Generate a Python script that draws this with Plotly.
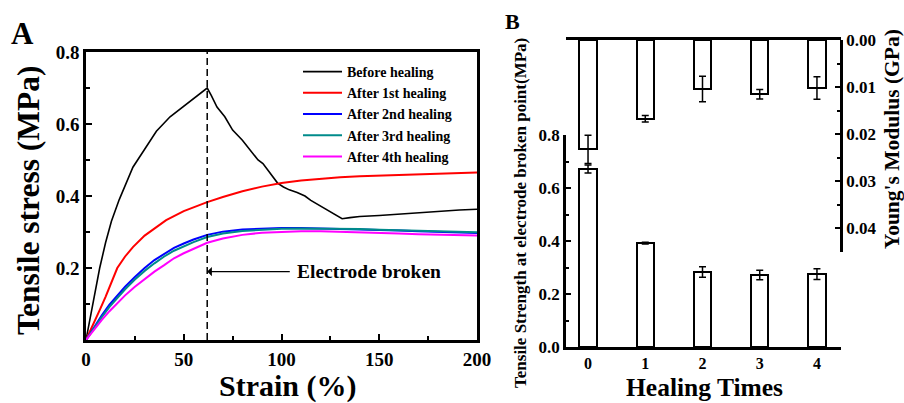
import plotly.graph_objects as go

W, H = 904, 403
FONT = "Liberation Serif"

# ---------------- Panel A data ----------------
before_x = [0, 2, 4, 7, 10, 13, 17, 20, 24, 30, 36, 43, 50, 56, 62, 64, 67, 71, 75, 80, 85, 88, 90.5, 94, 98,
            101, 104, 108, 112, 115, 120, 126, 131, 135, 140, 150, 160, 170, 180, 191, 200]
before_y = [0, 0.06, 0.12, 0.20, 0.27, 0.33, 0.39, 0.43, 0.48, 0.53, 0.58, 0.62, 0.65, 0.675, 0.70, 0.68, 0.647,
            0.62, 0.583, 0.555, 0.52, 0.50, 0.49, 0.465, 0.436, 0.425, 0.417, 0.41, 0.40, 0.388, 0.372, 0.353,
            0.337, 0.34, 0.343, 0.346, 0.35, 0.353, 0.357, 0.361, 0.363]

h1_x = [0, 4, 7, 10, 12, 16, 20, 24, 30, 35, 41, 50, 62, 70, 80, 90, 100, 110, 120, 130, 140, 150, 160, 170,
        180, 191, 200]
h1_y = [0, 0.045, 0.083, 0.12, 0.145, 0.20, 0.232, 0.258, 0.29, 0.31, 0.333, 0.358, 0.383, 0.397, 0.413, 0.426,
        0.436, 0.443, 0.448, 0.452, 0.455, 0.457, 0.459, 0.461, 0.462, 0.464, 0.465]

hx = [0, 4, 8, 12, 16, 20, 25, 30, 35, 40, 45, 50, 55, 62, 70, 80, 90, 100, 110, 120, 130, 140, 150, 160, 170,
      180, 190, 200]
h2_y = [0, 0.035, 0.068, 0.098, 0.124, 0.148, 0.175, 0.20, 0.222, 0.24, 0.256, 0.268, 0.279, 0.292, 0.301, 0.307,
        0.31, 0.311, 0.311, 0.31, 0.309, 0.308, 0.306, 0.304, 0.302, 0.30, 0.298, 0.297]
h3_y = [0, 0.032, 0.063, 0.092, 0.118, 0.141, 0.168, 0.192, 0.213, 0.232, 0.248, 0.261, 0.272, 0.286, 0.296,
        0.303, 0.307, 0.309, 0.31, 0.31, 0.309, 0.308, 0.306, 0.305, 0.303, 0.301, 0.30, 0.299]
h4_y = [0, 0.028, 0.055, 0.08, 0.103, 0.124, 0.148, 0.17, 0.19, 0.208, 0.227, 0.241, 0.254, 0.27, 0.282, 0.292,
        0.298, 0.301, 0.302, 0.302, 0.301, 0.30, 0.298, 0.296, 0.294, 0.292, 0.291, 0.29]

series_names = ["Before healing", "After 1st healing", "After 2nd healing", "After 3rd healing", "After 4th healing"]
series_colors = ["#000000", "#ff0000", "#0000ff", "#008b8b", "#ff00ff"]
broken_strain = 62
broken_label = "Electrode broken"

# ---------------- Panel B data ----------------
healing_times = [0, 1, 2, 3, 4]
strength = [0.672, 0.392, 0.283, 0.272, 0.275]
strength_err = [0.015, 0.003, 0.02, 0.018, 0.02]
modulus = [0.0232, 0.0167, 0.0104, 0.0115, 0.0102]
modulus_err = [0.003, 0.0007, 0.0027, 0.001, 0.0024]


def px(x):
    return x / W


def py(y):
    return 1 - y / H


fig = go.Figure()

xs = [before_x, h1_x, hx, hx, hx]
ys = [before_y, h1_y, h2_y, h3_y, h4_y]
widths = [1.6, 2, 2, 2, 2]
for name, c, x, y, w in zip(series_names, series_colors, xs, ys, widths):
    fig.add_trace(go.Scatter(x=x, y=y, mode="lines", name=name, line=dict(color=c, width=w),
                             xaxis="x", yaxis="y"))

bar_line = dict(color="black", width=2)
fig.add_trace(go.Bar(x=healing_times, y=strength, width=0.3, xaxis="x2", yaxis="y2", showlegend=False,
                     marker=dict(color="white", line=bar_line),
                     error_y=dict(type="data", array=strength_err, color="black", thickness=1.5, width=3.5)))
fig.add_trace(go.Bar(x=healing_times, y=modulus, width=0.3, xaxis="x3", yaxis="y3", showlegend=False,
                     marker=dict(color="white", line=bar_line),
                     error_y=dict(type="data", array=modulus_err, color="black", thickness=1.5, width=3.5)))

tickA = dict(family=FONT, size=19, color="black", weight="bold")
tickB = dict(family=FONT, size=17, color="black", weight="bold")
axA = dict(showline=True, linecolor="black", linewidth=2.5, mirror=True, ticks="inside", ticklen=6,
           tickwidth=2, tickcolor="black", showgrid=False, zeroline=False, tickfont=tickA, automargin=False)

xB = [-0.385, 4.42]
fig.update_layout(
    template="none",
    width=W, height=H, margin=dict(l=0, r=0, t=0, b=0, autoexpand=False),
    paper_bgcolor="white", plot_bgcolor="rgba(0,0,0,0)",
    showlegend=True,
    legend=dict(x=px(298), y=py(56), xanchor="left", yanchor="top", bgcolor="rgba(0,0,0,0)",
                font=dict(family=FONT, size=14, color="black", weight="bold"), tracegroupgap=0,
                itemwidth=39, borderwidth=0),
    xaxis=dict(axA, domain=[px(86), px(477)], range=[0, 200], tickvals=[0, 50, 100, 150, 200],
               minor=dict(tickvals=[25, 75, 125, 175], ticks="inside", ticklen=4, tickwidth=2,
                          tickcolor="black"), anchor="y"),
    yaxis=dict(axA, domain=[py(340), py(52)], range=[0, 0.8], tickvals=[0.2, 0.4, 0.6, 0.8],
               ticktext=["0.2", "0.4", "0.6", "0.8"],
               minor=dict(tickvals=[0.1, 0.3, 0.5, 0.7], ticks="inside", ticklen=4, tickwidth=2,
                          tickcolor="black"), anchor="x"),
    xaxis2=dict(domain=[px(566), px(841)], range=xB, anchor="y2", showline=True, linecolor="black",
                linewidth=2.5, tickvals=healing_times, ticks="", showgrid=False, zeroline=False,
                tickfont=dict(tickB, size=16), automargin=False),
    yaxis2=dict(domain=[py(347), py(135)], range=[0, 0.8], anchor="x2", showline=True, linecolor="black",
                linewidth=2.5, ticks="inside", ticklen=5, tickwidth=2, tickcolor="black", dtick=0.2,
                tickformat=".1f", showgrid=False, zeroline=False, tickfont=tickB, automargin=False,
                minor=dict(dtick=0.1, ticks="inside", ticklen=3, tickwidth=2, tickcolor="black")),
    xaxis3=dict(domain=[px(566), px(841)], range=xB, anchor="y3", side="top", showline=True,
                linecolor="black", linewidth=2.5, showticklabels=False, ticks="", showgrid=False,
                zeroline=False, automargin=False),
    yaxis3=dict(domain=[py(252), py(40)], range=[0.045, 0], anchor="free", position=px(841), side="right",
                showline=True, linecolor="black", linewidth=2.5, ticks="inside", ticklen=5, tickwidth=2,
                tickcolor="black", dtick=0.01, tickformat=".2f", showgrid=False, zeroline=False,
                tickfont=tickB, automargin=False,
                minor=dict(dtick=0.005, ticks="inside", ticklen=3, tickwidth=2, tickcolor="black")),
    bargap=0,
)

# dashed line at electrode break
fig.add_shape(type="line", xref="x", yref="y", x0=broken_strain, x1=broken_strain, y0=0, y1=0.8,
              line=dict(color="black", width=1.5, dash="7px,4px"))

ann_font = dict(family=FONT, color="black", weight="bold")
fig.add_annotation(x=broken_strain, y=0.19, xref="x", yref="y", ax=105, ay=0.19, axref="x", ayref="y",
                   text="", showarrow=True, arrowhead=1, arrowsize=1.2, arrowwidth=1.3, arrowcolor="black")
fig.add_annotation(x=107, y=0.19, xref="x", yref="y", text=broken_label, showarrow=False, xanchor="left",
                   yanchor="middle", font=dict(ann_font, size=19.5))


def label(xp, yp, text, size, angle=0):
    fig.add_annotation(x=px(xp), y=py(yp), xref="paper", yref="paper", text=text, showarrow=False,
                       xanchor="center", yanchor="middle", textangle=angle, font=dict(ann_font, size=size),
                       borderpad=0)


# panel labels and titles
label(22, 33, "A", 31)
label(512, 21, "B", 22)
label(29, 201, "Tensile stress (MPa)", 31.5, -90)
label(288, 386, "Strain (%)", 30)
label(704, 387, "Healing Times", 25.5)
label(520, 213, "Tensile Strength at electrode broken point(MPa)", 17, -90)
label(892, 139, "Young's Modulus (GPa)", 21.5, -90)

fig.write_html("out.html")
